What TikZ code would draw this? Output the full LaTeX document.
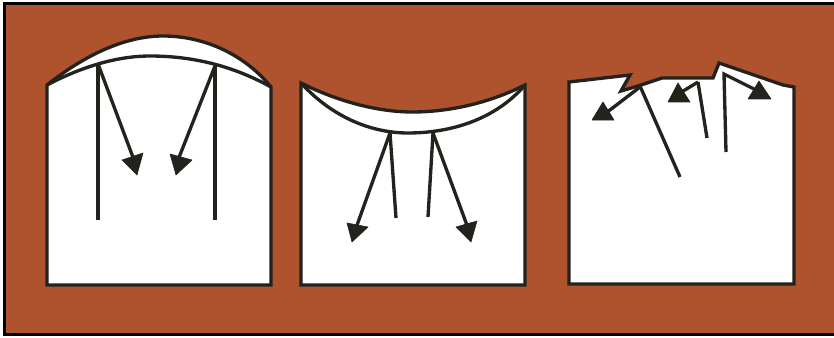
\documentclass[tikz,border=0pt]{standalone}
\definecolor{rust}{RGB}{175,82,46}
\definecolor{ink}{RGB}{35,35,30}
\tikzset{
  px/.style={x=0.03cm,y=-0.03cm},
  panel/.style={fill=white,draw=ink,line width=0.1cm,line join=miter},
  rayline/.style={draw=ink,line width=0.1cm},
  tip/.style={fill=ink,draw=ink,line width=0.5pt,line join=round}
}
\newcommand{\arrowhead}[3]{\filldraw[tip] (#1) -- (#2) -- (#3) -- cycle;}
\begin{document}
\begin{tikzpicture}[px]
\useasboundingbox (0,0) rectangle (834,338);
\fill[white] (0,0) rectangle (834,338);
\fill[rust,draw=black,line width=0.09cm] (4,4) rectangle (840,334);
% panel 1
\draw[panel] (47,285) -- (47,85) .. controls (85,55) and (125,36) .. (163,36) .. controls (205,36) and (245,55) .. (271,87) -- (271,285) -- cycle;
\draw[rayline] (47,85) .. controls (85,65) and (120,56) .. (150,56) .. controls (195,56) and (235,67) .. (271,87);
\draw[rayline] (98,220) -- (98,64);
\draw[rayline] (215,220) -- (215,66);
\draw[rayline] (98,64) -- (134,160);
\arrowhead{137,175}{122,160}{143,153}
\draw[rayline] (215,66) -- (178,160);
\arrowhead{176,175}{170,154}{192,160}
% panel 2
\draw[panel] (301,285) -- (301,83) .. controls (345,105) and (385,112) .. (412,112) .. controls (445,112) and (485,105) .. (525,85) -- (525,285) -- cycle;
\draw[rayline] (301,83) .. controls (335,120) and (375,133) .. (408,133) .. controls (450,133) and (495,120) .. (525,85);
\draw[rayline] (390,133) -- (396,218);
\draw[rayline] (433,133) -- (428,217);
\draw[rayline] (390,133) -- (356,228);
\arrowhead{352,242}{347,223}{368,227}
\draw[rayline] (433,133) -- (468,228);
\arrowhead{471,242}{456,227}{477,221}
% panel 3
\draw[panel] (569,284) -- (569,82) -- (630,75) -- (621,91) -- (638,86) -- (662,78) -- (713,78) -- (719,63) -- (783,85) -- (794,87) -- (794,284) -- cycle;
\draw[rayline] (640,86) -- (680,177);
\draw[rayline] (698,82) -- (707,138);
\draw[rayline] (726,152) -- (724,74) -- (760,92);
\draw[rayline] (640,87) -- (606,113);
\arrowhead{603,102}{592,120}{614,120}
\draw[rayline] (698,82) -- (680,93);
\arrowhead{678,83}{668,102}{690,102}
\arrowhead{759,81}{748,99}{771,99}
\end{tikzpicture}
\end{document}
